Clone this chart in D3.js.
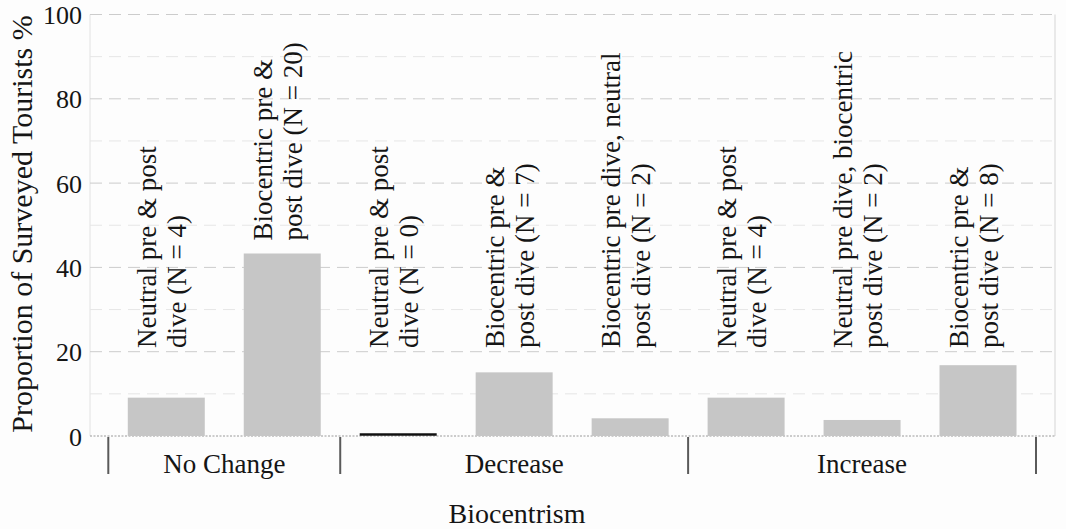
<!DOCTYPE html>
<html>
<head>
<meta charset="utf-8">
<script src="https://cdn.jsdelivr.net/npm/d3@7"></script>
<style>
  html, body { margin: 0; padding: 0; background: #fdfdfd; }
  svg { display: block; }
  svg text { font-family: "Liberation Serif", serif; fill: #151515; }
</style>
</head>
<body>
<svg id="chart" width="1066" height="529"></svg>
<script>
// ---- data ----
const groups = ["No Change", "Decrease", "Increase"];
const barGroup = ["No Change", "No Change", "Decrease", "Decrease", "Decrease", "Increase", "Increase", "Increase"];
const barLabels = [
  ["Neutral pre & post", "dive (N = 4)"],
  ["Biocentric pre &", "post dive (N = 20)"],
  ["Neutral pre & post", "dive (N = 0)"],
  ["Biocentric pre &", "post dive (N = 7)"],
  ["Biocentric pre dive, neutral", "post dive (N = 2)"],
  ["Neutral pre & post", "dive (N = 4)"],
  ["Neutral pre dive, biocentric", "post dive (N = 2)"],
  ["Biocentric pre &", "post dive (N = 8)"]
];
const values = [9.1, 43.3, 0, 15.1, 4.2, 9.1, 3.8, 16.8];
const yTicks = [0, 20, 40, 60, 80, 100];
const yGrid = [10, 20, 30, 40, 50, 60, 70, 80, 90, 100];
const yTitle = "Proportion of Surveyed Tourists %";
const xTitle = "Biocentrism";

// ---- layout ----
const svg = d3.select("#chart");
const plotLeft = 90, plotRight = 1055;
const y = d3.scaleLinear().domain([0, 100]).range([436, 14.5]);
const x = d3.scaleBand().domain(d3.range(values.length))
  .range([108.3, 1036]).paddingInner(0.336).paddingOuter(0.168);
const FS = 27;

// frame lines (faint)
svg.append("line").attr("x1", plotLeft).attr("x2", plotLeft).attr("y1", y(100)).attr("y2", y(0))
  .attr("stroke", "#e2e2e2").attr("stroke-width", 1);
svg.append("line").attr("x1", plotRight).attr("x2", plotRight).attr("y1", y(100)).attr("y2", y(0))
  .attr("stroke", "#e2e2e2").attr("stroke-width", 1.5);

// gridlines
svg.append("g").selectAll("line").data(yGrid).join("line")
  .attr("x1", plotLeft).attr("x2", plotRight)
  .attr("y1", d => y(d)).attr("y2", d => y(d))
  .attr("stroke", d => d % 20 === 0 ? "#cccccc" : "#e6e6e6")
  .attr("stroke-width", 1)
  .attr("stroke-dasharray", "12,7");

// baseline
svg.append("line").attr("x1", plotLeft).attr("x2", plotRight).attr("y1", y(0)).attr("y2", y(0))
  .attr("stroke", "#9a9a9a").attr("stroke-width", 1).attr("stroke-dasharray", "2,1.5");

// y tick labels
svg.append("g").selectAll("text").data(yTicks).join("text")
  .attr("x", 82).attr("y", d => y(d) + 9.5)
  .attr("text-anchor", "end")
  .attr("font-size", 26)
  .text(d => d);

// bars
svg.append("g").selectAll("rect").data(values).join("rect")
  .attr("x", (d, i) => x(i))
  .attr("width", x.bandwidth())
  .attr("y", d => y(d))
  .attr("height", d => y(0) - y(d))
  .attr("fill", "#c6c6c6");

// zero-value bars as dark line
svg.append("g").selectAll("line").data(values.map((v, i) => ({ v, i })).filter(d => d.v === 0)).join("line")
  .attr("x1", d => x(d.i)).attr("x2", d => x(d.i) + x.bandwidth())
  .attr("y1", d => y(d.v) - 1.5).attr("y2", d => y(d.v) - 1.5)
  .attr("stroke", "#111").attr("stroke-width", 2.5);

// bar labels (rotated, two lines)
const lab = svg.append("g").selectAll("g").data(values).join("g")
  .attr("transform", (d, i) => `translate(${x(i) + x.bandwidth() / 2},${y(Math.max(d, 17.8)) - 13}) rotate(-90)`);
lab.each(function (d, i) {
  const g = d3.select(this);
  barLabels[i].forEach((line, k) => {
    g.append("text")
      .attr("x", 0).attr("y", k === 0 ? -10.5 : 19.5)
      .attr("text-anchor", "start")
      .attr("font-size", FS)
      .text(line);
  });
});

// group separators and labels
const gap = (x.step() - x.bandwidth()) / 2;
const groupInfo = groups.map(g => {
  const idx = d3.range(values.length).filter(i => barGroup[i] === g);
  const x0 = x(idx[0]) - gap;
  const x1 = x(idx[idx.length - 1]) + x.bandwidth() + gap;
  return { g, x0, x1 };
});
const seps = [groupInfo[0].x0, ...groupInfo.map(d => d.x1)];
svg.append("g").selectAll("line").data(seps).join("line")
  .attr("x1", d => d).attr("x2", d => d)
  .attr("y1", y(0) + 1).attr("y2", y(0) + 38)
  .attr("stroke", "#5a5a5a").attr("stroke-width", 2);
svg.append("g").selectAll("text").data(groupInfo).join("text")
  .attr("x", d => (d.x0 + d.x1) / 2).attr("y", 473)
  .attr("text-anchor", "middle")
  .attr("font-size", FS)
  .text(d => d.g);

// axis titles
svg.append("text")
  .attr("transform", `translate(32,224) rotate(-90)`)
  .attr("text-anchor", "middle")
  .attr("font-size", 30)
  .text(yTitle);
svg.append("text")
  .attr("x", 517).attr("y", 523)
  .attr("text-anchor", "middle")
  .attr("font-size", 28)
  .text(xTitle);
</script>
</body>
</html>
